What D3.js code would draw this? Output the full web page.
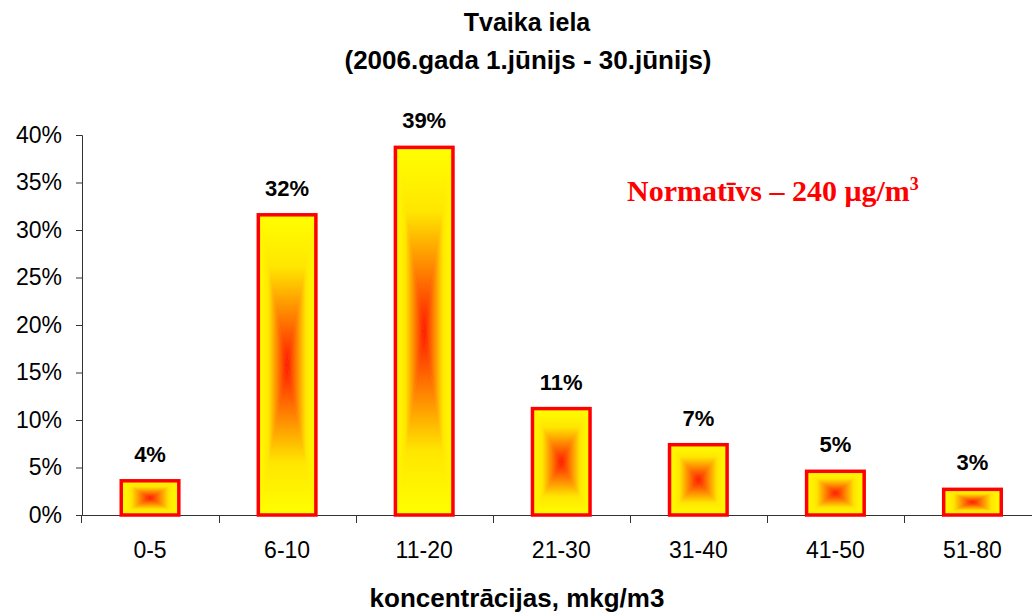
<!DOCTYPE html>
<html>
<head>
<meta charset="utf-8">
<script src="https://cdn.jsdelivr.net/npm/d3@7"></script>
<style>
  body { margin: 0; background: #fff; }
  svg { display: block; }
</style>
</head>
<body>
<div id="chart"></div>
<script>
// chart data
const categories = ['0-5', '6-10', '11-20', '21-30', '31-40', '41-50', '51-80'];
const values = [0.036, 0.316, 0.387, 0.112, 0.074, 0.046, 0.027];
const valueLabels = ['4%', '32%', '39%', '11%', '7%', '5%', '3%'];
const yTicks = [0, 0.05, 0.10, 0.15, 0.20, 0.25, 0.30, 0.35, 0.40];

const width = 1032;
const height = 612;
const sans = 'Liberation Sans, Arial, sans-serif';

const svg = d3.select('#chart').append('svg')
  .attr('width', width)
  .attr('height', height);

// gradients: each bar is split into 4 triangles, yellow at the edges, red in the centre
const defs = svg.append('defs');
const gradDirs = {
  top: [0, 0, 0, 1],
  bottom: [0, 1, 0, 0],
  left: [0, 0, 1, 0],
  right: [1, 0, 0, 0]
};
Object.entries(gradDirs).forEach(([name, d]) => {
  const g = defs.append('linearGradient').attr('id', 'grad-' + name)
    .attr('x1', d[0]).attr('y1', d[1]).attr('x2', d[2]).attr('y2', d[3]);
  g.append('stop').attr('offset', 0).attr('stop-color', '#ffff00');
  g.append('stop').attr('offset', 0.35).attr('stop-color', '#ffe600');
  g.append('stop').attr('offset', 1).attr('stop-color', '#ff1a00');
});

// scales
const xScale = d3.scaleBand()
  .domain(categories)
  .range([81.5, 1041])
  .paddingInner(0.58)
  .paddingOuter(0.29);
const yScale = d3.scaleLinear()
  .domain([0, 0.4])
  .range([515, 135]);

// Y axis
const yAxis = d3.axisLeft(yScale)
  .tickValues(yTicks)
  .tickFormat(d3.format('.0%'))
  .tickSize(6)
  .tickPadding(14);
const yG = svg.append('g')
  .attr('transform', 'translate(82,0)')
  .call(yAxis);
yG.select('.domain').attr('stroke', '#333').attr('d', 'M-6,135.5H0.5V515.5');
yG.selectAll('.tick line').attr('stroke', '#333');
yG.selectAll('.tick text')
  .attr('font-family', sans)
  .attr('font-size', '23px')
  .attr('fill', '#000');

// X axis
const xAxis = d3.axisBottom(xScale).tickSize(0).tickPadding(27);
const xG = svg.append('g')
  .attr('transform', 'translate(0,515)')
  .call(xAxis);
xG.select('.domain').attr('stroke', '#333').attr('d', 'M82,0.5H1032');
xG.selectAll('.tick text')
  .attr('font-family', sans)
  .attr('font-size', '23px')
  .attr('fill', '#000');
// boundary tick marks between categories
xG.selectAll('.bound').data(categories).enter().append('line')
  .attr('class', 'bound')
  .attr('x1', d => Math.round(xScale(d) + xScale.bandwidth() / 2 - xScale.step() / 2) + 0.5)
  .attr('x2', d => Math.round(xScale(d) + xScale.bandwidth() / 2 - xScale.step() / 2) + 0.5)
  .attr('y1', 0)
  .attr('y2', 8)
  .attr('stroke', '#333');

// bars
const bars = svg.append('g').selectAll('.bar')
  .data(categories.map((c, i) => ({ cat: c, value: values[i], label: valueLabels[i] })))
  .enter().append('g').attr('class', 'bar');

bars.each(function (d) {
  const g = d3.select(this);
  const x0 = xScale(d.cat);
  const x1 = x0 + xScale.bandwidth();
  const y0 = yScale(d.value);
  const y1 = yScale(0);
  const cx = (x0 + x1) / 2;
  const cy = (y0 + y1) / 2;
  const tris = [
    ['top', [[x0, y0], [x1, y0], [cx, cy]]],
    ['bottom', [[x0, y1], [x1, y1], [cx, cy]]],
    ['left', [[x0, y0], [x0, y1], [cx, cy]]],
    ['right', [[x1, y0], [x1, y1], [cx, cy]]]
  ];
  tris.forEach(([name, pts]) => {
    g.append('polygon')
      .attr('points', pts.map(p => p.join(',')).join(' '))
      .attr('fill', `url(#grad-${name})`)
      .attr('stroke', `url(#grad-${name})`)
      .attr('stroke-width', 0.6);
  });
  g.append('rect')
    .attr('x', x0)
    .attr('y', y0)
    .attr('width', x1 - x0)
    .attr('height', y1 - y0)
    .attr('fill', 'none')
    .attr('stroke', '#ff0000')
    .attr('stroke-width', 3.5);
  g.append('text')
    .attr('x', cx)
    .attr('y', y0 - 19)
    .attr('text-anchor', 'middle')
    .attr('font-family', sans)
    .attr('font-weight', 'bold')
    .attr('font-size', '22px')
    .text(d.label);
});

// titles
svg.append('text')
  .attr('x', 527).attr('y', 31)
  .attr('text-anchor', 'middle')
  .attr('font-family', sans)
  .attr('font-weight', 'bold')
  .attr('font-size', '25px')
  .text('Tvaika iela');
svg.append('text')
  .attr('x', 528).attr('y', 69)
  .attr('text-anchor', 'middle')
  .attr('font-family', sans)
  .attr('font-weight', 'bold')
  .attr('font-size', '26px')
  .text('(2006.gada 1.jūnijs - 30.jūnijs)');

svg.append('text')
  .attr('x', 517).attr('y', 607)
  .attr('text-anchor', 'middle')
  .attr('font-family', sans)
  .attr('font-weight', 'bold')
  .attr('font-size', '26px')
  .text('koncentrācijas, mkg/m3');

// norm annotation
const norm = svg.append('text')
  .attr('x', 627).attr('y', 201)
  .attr('font-family', 'Liberation Serif, Times New Roman, serif')
  .attr('font-weight', 'bold')
  .attr('font-size', '30px')
  .attr('fill', '#ff0000');
norm.append('tspan').text('Normatīvs – 240 μg/m');
norm.append('tspan').attr('dy', -11).attr('font-size', '18px').text('3');
</script>
</body>
</html>
